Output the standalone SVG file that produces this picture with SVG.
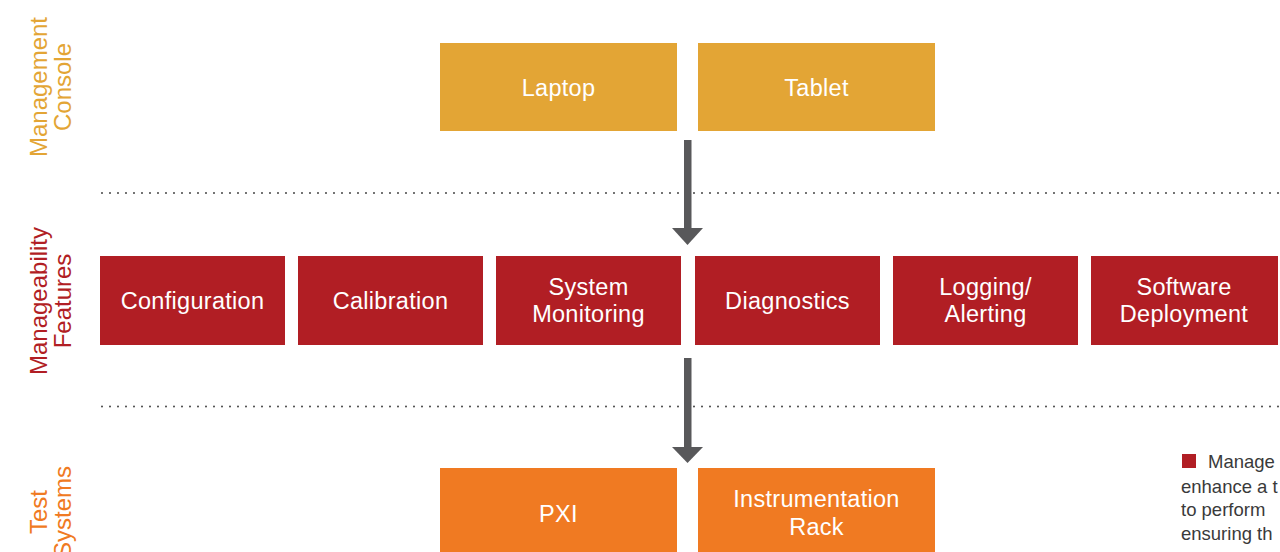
<svg xmlns="http://www.w3.org/2000/svg" width="1280" height="552" viewBox="0 0 1280 552">
<style>
.lbl{font-family:"Liberation Sans",Arial,sans-serif;font-size:24px;text-anchor:middle}
.bt{font-family:"Liberation Sans",Arial,sans-serif;font-size:23.5px;fill:#fff;text-anchor:middle;letter-spacing:0.3px}
.gold{fill:#E3A535}.red{fill:#B11E24}.orange{fill:#F07A22}
.dots{stroke:#555;stroke-width:2.2;stroke-dasharray:0 8;stroke-linecap:round;fill:none}
.arrow{fill:#58585A}
.note{font-family:"Liberation Sans",Arial,sans-serif;font-size:18.5px;fill:#3a3a3a}
</style>
<g id="labels">
<text class="lbl gold" transform="translate(47,87) rotate(-90)">Management</text>
<text class="lbl gold" transform="translate(71,87) rotate(-90)">Console</text>
<text class="lbl red" transform="translate(47,301) rotate(-90)">Manageability</text>
<text class="lbl red" transform="translate(71,301) rotate(-90)">Features</text>
<text class="lbl orange" transform="translate(47,512) rotate(-90)">Test</text>
<text class="lbl orange" transform="translate(71,512) rotate(-90)">Systems</text>
</g>
<g id="connectors">
<line class="dots" x1="102" y1="193" x2="1280" y2="193"/>
<line class="dots" x1="102" y1="406.5" x2="1280" y2="406.5"/>
<rect class="arrow" x="684" y="140" width="7.5" height="90"/>
<polygon class="arrow" points="672,228 703,228 687.5,245"/>
<rect class="arrow" x="684" y="358" width="7.5" height="91"/>
<polygon class="arrow" points="672,447 703,447 687.5,463"/>
</g>
<g id="laptop"><rect class="gold" x="440" y="43" width="237" height="88"/><text class="bt" x="558.5" y="96">Laptop</text></g>
<g id="tablet"><rect class="gold" x="698" y="43" width="237" height="88"/><text class="bt" x="816.5" y="96">Tablet</text></g>
<g id="configuration"><rect class="red" x="100" y="256" width="185" height="89"/><text class="bt" x="192.5" y="309">Configuration</text></g>
<g id="calibration"><rect class="red" x="298" y="256" width="185" height="89"/><text class="bt" x="390.5" y="309">Calibration</text></g>
<g id="system-monitoring"><rect class="red" x="496" y="256" width="185" height="89"/><text class="bt" x="588.5" y="295">System</text><text class="bt" x="588.5" y="322">Monitoring</text></g>
<g id="diagnostics"><rect class="red" x="695" y="256" width="185" height="89"/><text class="bt" x="787.5" y="309">Diagnostics</text></g>
<g id="logging"><rect class="red" x="893" y="256" width="185" height="89"/><text class="bt" x="985.5" y="295">Logging/</text><text class="bt" x="985.5" y="322">Alerting</text></g>
<g id="software-deployment"><rect class="red" x="1091" y="256" width="187" height="89"/><text class="bt" x="1184" y="295">Software</text><text class="bt" x="1184" y="322">Deployment</text></g>
<g id="pxi"><rect class="orange" x="440" y="468" width="237" height="88"/><text class="bt" x="558.5" y="522">PXI</text></g>
<g id="instrumentation-rack"><rect class="orange" x="698" y="468" width="237" height="88"/><text class="bt" x="816.5" y="507">Instrumentation</text><text class="bt" x="816.5" y="535">Rack</text></g>
<g id="note">
<rect class="red" x="1182" y="454" width="14" height="14"/>
<text class="note" x="1208" y="468">Manage</text>
<text class="note" x="1181" y="492.5">enhance a t</text>
<text class="note" x="1181" y="516">to perform</text>
<text class="note" x="1181" y="539.5">ensuring th</text>
</g>
</svg>
